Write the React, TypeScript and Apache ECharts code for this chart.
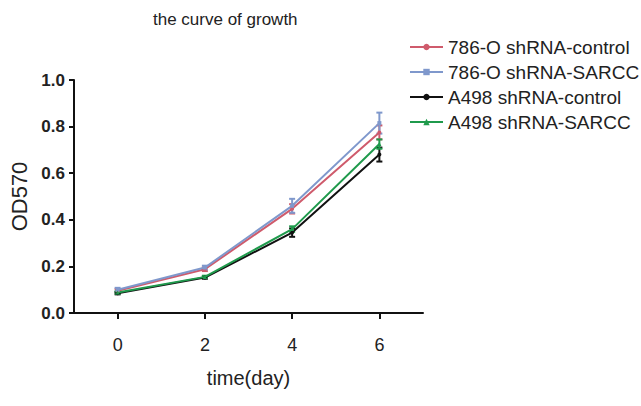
import React, { useEffect, useRef } from "react";
import * as echarts from "echarts";

const days = [0, 2, 4, 6];
const seriesNames = ["786-O shRNA-control", "786-O shRNA-SARCC", "A498 shRNA-control", "A498 shRNA-SARCC"];
const ctrl786 = [0.095, 0.188, 0.447, 0.775];
const sarcc786 = [0.1, 0.195, 0.46, 0.815];
const ctrlA498 = [0.085, 0.152, 0.345, 0.68];
const sarccA498 = [0.088, 0.155, 0.36, 0.725];
const errCtrl786 = [0.008, 0.008, 0.02, 0.03];
const errSarcc786 = [0.008, 0.008, 0.03, 0.045];
const errCtrlA498 = [0.005, 0.005, 0.018, 0.03];
const errSarccA498 = [0.005, 0.005, 0.012, 0.02];
const colors = ["#cf5b6c", "#7f98cc", "#111111", "#1f9a4c"];
const symbols = ["circle", "rect", "circle", "triangle"];

export default function App() {
  const ref = useRef<HTMLDivElement>(null);
  useEffect(() => {
    const chart = echarts.init(ref.current!, null, { renderer: "svg" });
    const vals = [ctrl786, sarcc786, ctrlA498, sarccA498];
    const errs = [errCtrl786, errSarcc786, errCtrlA498, errSarccA498];
    const lineSeries = vals.map((v, i) => ({
      name: seriesNames[i],
      type: "line",
      data: days.map((d, j) => [d, v[j]]),
      symbol: symbols[i],
      symbolSize: 4,
      lineStyle: { color: colors[i], width: 2 },
      itemStyle: { color: colors[i] },
      z: 3 + (i === 2 ? 0 : 1),
    }));
    const errSeries = vals.map((v, i) => ({
      name: "err" + i,
      type: "custom",
      data: days.map((d, j) => [d, v[j] - errs[i][j], v[j] + errs[i][j]]),
      renderItem: (params: any, api: any) => {
        const x = api.value(0);
        const lo = api.coord([x, api.value(1)]);
        const hi = api.coord([x, api.value(2)]);
        const c = 3;
        const style = { stroke: colors[i], lineWidth: 2 };
        return {
          type: "group",
          children: [
            { type: "line", shape: { x1: lo[0], y1: lo[1], x2: hi[0], y2: hi[1] }, style },
            { type: "line", shape: { x1: lo[0] - c, y1: lo[1], x2: lo[0] + c, y2: lo[1] }, style },
            { type: "line", shape: { x1: hi[0] - c, y1: hi[1], x2: hi[0] + c, y2: hi[1] }, style },
          ],
        };
      },
      z: 2,
    }));
    chart.setOption({
      animation: false,
      textStyle: { fontFamily: "Liberation Sans, Arial, sans-serif" },
      title: {
        text: "the curve of growth",
        left: 148,
        top: 6,
        textStyle: { fontSize: 17, fontWeight: "normal", color: "#222" },
      },
      legend: {
        data: seriesNames,
        orient: "vertical",
        left: 404,
        top: 32,
        itemWidth: 33,
        itemHeight: 8,
        itemGap: 5,
        textStyle: { fontSize: 19, color: "#222", lineHeight: 20 },
      },
      grid: { left: 73, right: 218, top: 80, bottom: 93, containLabel: false },
      xAxis: {
        type: "value",
        min: -1,
        max: 7,
        name: "time(day)",
        nameLocation: "middle",
        nameGap: 55,
        nameTextStyle: { fontSize: 20, color: "#222" },
        axisLine: { onZero: false, lineStyle: { color: "#111", width: 2 } },
        axisTick: { show: true, length: 6, lineStyle: { color: "#111", width: 2 }, customValues: days },
        axisLabel: { customValues: days, fontSize: 18, color: "#222", margin: 23 },
        splitLine: { show: false },
      },
      yAxis: {
        type: "value",
        min: 0,
        max: 1,
        interval: 0.2,
        name: "OD570",
        nameLocation: "middle",
        nameGap: 44,
        nameTextStyle: { fontSize: 22, color: "#222" },
        axisLine: { show: true, onZero: false, lineStyle: { color: "#111", width: 2 } },
        axisTick: { show: true, length: 5, lineStyle: { color: "#111", width: 2 } },
        axisLabel: {
          fontSize: 17,
          fontWeight: "bold",
          color: "#222",
          margin: 9,
          formatter: (v: number) => v.toFixed(1),
        },
        splitLine: { show: false },
      },
      series: [...errSeries, ...lineSeries],
    });
    return () => chart.dispose();
  }, []);
  return (
    <div
      ref={ref}
      style={{ position: "absolute", left: 0, top: 0, width: 641, height: 406 }}
    />
  );
}
